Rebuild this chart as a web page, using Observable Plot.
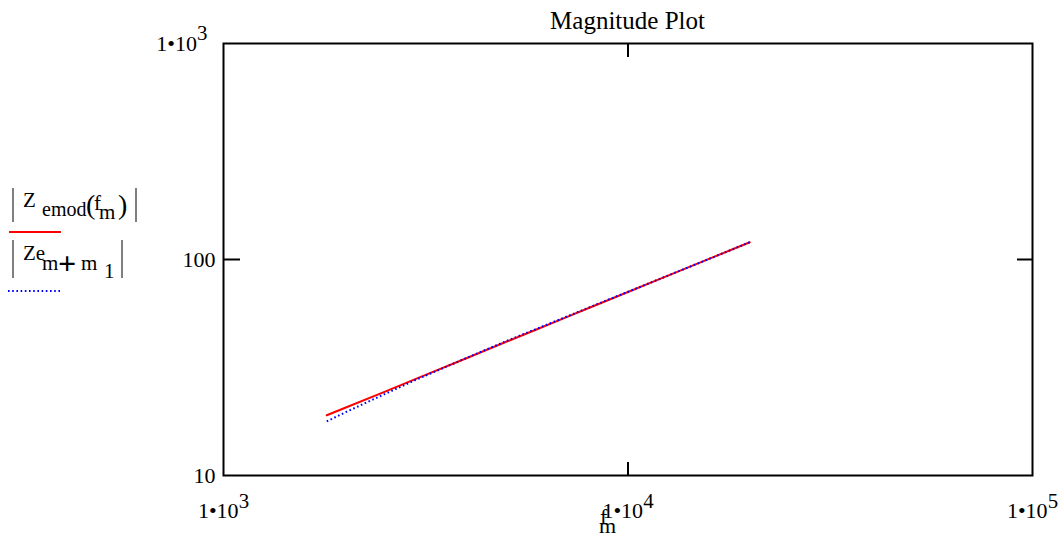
<!DOCTYPE html>
<html>
<head>
<meta charset="utf-8">
<script src="https://cdn.jsdelivr.net/npm/d3@7"></script>
<script src="https://cdn.jsdelivr.net/npm/@observablehq/plot@0.6"></script>
<style>
  html, body { margin: 0; padding: 0; background: white; }
  #chart { width: 1058px; height: 537px; overflow: hidden; }
</style>
</head>
<body>
<div id="chart"></div>
<script>
// ---- data ----
const freq = [1800, 2000, 2500, 3000, 4000, 5000, 6000, 7000, 8000, 10000, 12000, 15000, 20000];
const zModel = [19.0, 20.6, 24.4, 28.1, 35.0, 41.6, 47.8, 53.8, 59.6, 70.7, 81.3, 96.4, 120.2];
const zMeasured = [17.8, 19.6, 23.8, 27.8, 35.1, 41.9, 48.1, 54.1, 59.9, 70.9, 81.4, 96.4, 120.2];
const xTicks = [1e3, 1e4, 1e5];
const yTicks = [10, 100, 1000];
const xTickLabels = ["1•10^3", "1•10^4", "1•10^5"];
const yTickLabels = ["10", "100", "1•10^3"];
const titleText = "Magnitude Plot";

const modelData = freq.map((f, i) => ({f, z: zModel[i]}));
const measData = freq.map((f, i) => ({f, z: zMeasured[i]}));

const FONT = "Liberation Serif";

const svg = Plot.plot({
  width: 1058,
  height: 537,
  marginLeft: 223,
  marginRight: 26,
  marginTop: 43,
  marginBottom: 62,
  style: {fontFamily: FONT, fontSize: "22px", color: "black", background: "white", overflow: "visible"},
  x: {type: "log", domain: [1e3, 1e5], label: null},
  y: {type: "log", domain: [10, 1000], label: null},
  marks: [
    Plot.line(modelData, {x: "f", y: "z", stroke: "#ff0000", strokeWidth: 2}),
    Plot.line(measData, {x: "f", y: "z", stroke: "#0000ff", strokeWidth: 2, strokeDasharray: "1.6,2.6", strokeLinecap: "butt"}),
    Plot.frame({stroke: "black", strokeWidth: 2}),
    Plot.axisX({anchor: "bottom", ticks: [1e4], tickSize: -13, tickFormat: () => "", strokeWidth: 2, label: null}),
    Plot.axisX({anchor: "top", ticks: [1e4], tickSize: -13, tickFormat: () => "", strokeWidth: 2, label: null}),
    Plot.axisY({anchor: "left", ticks: [100], tickSize: -17, tickFormat: () => "", strokeWidth: 2, label: null}),
    Plot.axisY({anchor: "right", ticks: [100], tickSize: -16, tickFormat: () => "", strokeWidth: 2, label: null}),
    Plot.axisX({anchor: "bottom", ticks: xTicks, tickSize: 0, tickPadding: 27,
      tickFormat: d => xTickLabels[xTicks.indexOf(d)], label: null}),
    Plot.axisY({anchor: "left", ticks: yTicks, tickSize: 0, tickPadding: 8,
      tickFormat: d => yTickLabels[yTicks.indexOf(d)], label: null})
  ]
});

// superscripts for "1•10^n"
d3.select(svg).selectAll("text").each(function() {
  const t = this.textContent;
  const m = /^1•10\^(\d)$/.exec(t);
  if (m) {
    const sel = d3.select(this);
    sel.text("1•10");
    sel.append("tspan").attr("dy", "-0.5em").attr("font-size", "0.95em").text(m[1]);
    const grp = this.parentNode && this.parentNode.getAttribute("aria-label");
    if (grp && grp.startsWith("y-axis")) sel.attr("dx", -8);
  }
});

const s = d3.select(svg);
function txt(x, y, str, size, anchor) {
  return s.append("text").attr("x", x).attr("y", y)
    .attr("font-family", FONT).attr("font-size", size)
    .attr("fill", "black").attr("text-anchor", anchor || "start").text(str);
}

// title
txt(627.5, 29, titleText, 25, "middle");

// x axis label f_m
txt(600, 524, "f", 22);
txt(599, 533, "m", 22);

// legend
function bar(x, y1, y2) {
  s.append("line").attr("x1", x).attr("x2", x).attr("y1", y1).attr("y2", y2)
    .attr("stroke", "#555").attr("stroke-width", 1.5);
}
bar(13, 188, 222); bar(136, 188, 222);
txt(23, 207, "Z", 21);
txt(42, 216, "emod", 20);
txt(86, 214, "(", 28);
txt(94, 210, "f", 21);
txt(99, 219, "m", 21);
txt(118, 214, ")", 28);
s.append("line").attr("x1", 9).attr("x2", 61).attr("y1", 232).attr("y2", 232)
  .attr("stroke", "#ff0000").attr("stroke-width", 2);

bar(13, 240, 278); bar(122, 240, 278);
txt(23, 260, "Ze", 21);
txt(42, 270, "m", 21);
txt(58, 274, "+", 32).attr("font-weight", "bold");
txt(81, 270, "m", 21);
txt(104, 278, "1", 21);
s.append("line").attr("x1", 8).attr("x2", 60).attr("y1", 291).attr("y2", 291)
  .attr("stroke", "#0000ff").attr("stroke-width", 2).attr("stroke-dasharray", "1.6,2.6");

document.getElementById("chart").appendChild(svg);
</script>
</body>
</html>
